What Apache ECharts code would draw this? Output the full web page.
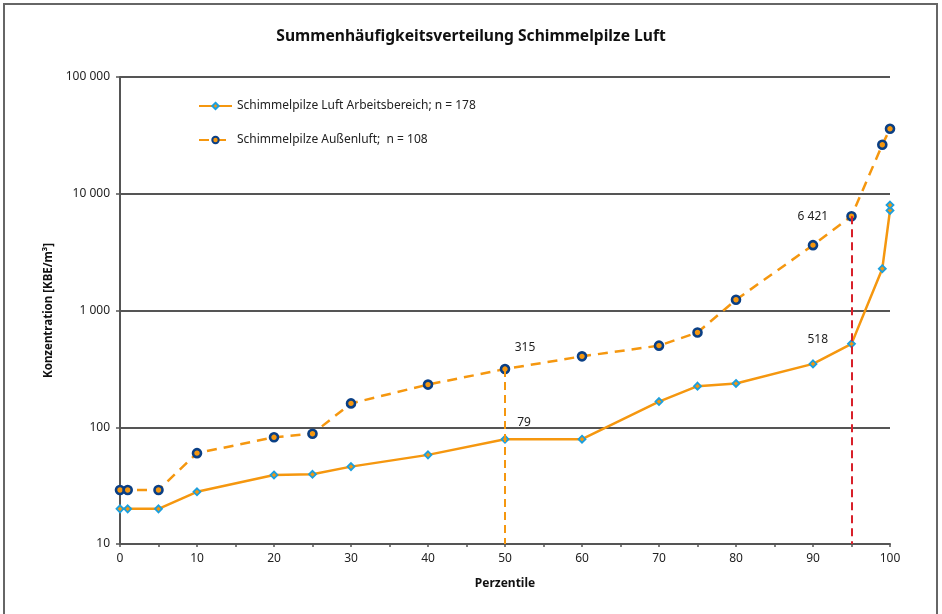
<!DOCTYPE html>
<html>
<head>
<meta charset="utf-8">
<script src="https://cdn.jsdelivr.net/npm/echarts@6/dist/echarts.min.js"></script>
<style>
html,body{margin:0;padding:0;background:#fff;}
#chart{width:942px;height:614px;}
</style>
</head>
<body>
<div id="chart"></div>
<script>
// ---- data ----
const title = 'Summenhäufigkeitsverteilung Schimmelpilze Luft';
const seriesNames = ['Schimmelpilze Luft Arbeitsbereich; n = 178', 'Schimmelpilze Außenluft;  n = 108'];
const xTicks = [0, 10, 20, 30, 40, 50, 60, 70, 80, 90, 100];
const yTicks = [10, 100, 1000, 10000, 100000];

const arbeitX = [0, 1, 5, 10, 20, 25, 30, 40, 50, 60, 70, 75, 80, 90, 95, 99, 100, 100];
const arbeitY = [20, 20, 20, 28, 39, 39.5, 46, 58, 79, 79, 166, 225, 237, 349, 518, 2280, 7200, 8000];

const aussenX = [0, 1, 5, 10, 20, 25, 30, 40, 50, 60, 70, 75, 80, 90, 95, 99, 100];
const aussenY = [29, 29, 29, 60, 82, 88, 160, 232, 315, 405, 500, 648, 1236, 3630, 6421, 26300, 36000];

// annotated percentiles (median and P95)
const medianX = 50;
const p95X = 95;

// ---- helpers ----
function fmt(v) {
  return String(Math.round(v)).replace(/\B(?=(\d{3})+(?!\d))/g, ' ');
}
const ORANGE = '#F5970F';
const FONT = 'Noto Sans';

function buildData(xs, ys, labels) {
  return xs.map((x, i) => {
    const item = { value: [x, ys[i]] };
    const lab = labels[i];
    if (lab) item.label = Object.assign({ show: true, formatter: fmt(ys[i]), color: '#222', fontSize: 12, fontFamily: FONT }, lab);
    return item;
  });
}

const arbeitLabels = {};
arbeitLabels[arbeitX.indexOf(medianX)] = { position: 'top', offset: [19, -1] };
arbeitLabels[arbeitX.indexOf(p95X)] = { position: 'left', offset: [-14, -4] };
const aussenLabels = {};
aussenLabels[aussenX.indexOf(medianX)] = { position: 'top', offset: [20, -5] };
aussenLabels[aussenX.indexOf(p95X)] = { position: 'left', offset: [-13, 0] };

const medY = aussenY[aussenX.indexOf(medianX)];
const p95Y = aussenY[aussenX.indexOf(p95X)];

const chart = echarts.init(document.getElementById('chart'), null, { renderer: 'canvas' });
chart.setOption({
  animation: false,
  backgroundColor: '#fff',
  textStyle: { fontFamily: FONT },
  title: {
    text: title, left: 'center', top: 24,
    textStyle: { fontFamily: FONT, fontSize: 15.6, fontWeight: 'bold', color: '#111' }
  },
  graphic: [{
    type: 'rect', shape: { x: 4, y: 4, width: 933, height: 620 },
    style: { fill: 'none', stroke: '#666', lineWidth: 2 }, silent: true, z: 100
  }],
  legend: {
    orient: 'vertical', left: 193, top: 95, itemGap: 22,
    itemWidth: 33, itemHeight: 8,
    textStyle: { fontFamily: FONT, fontSize: 12, color: '#222' },
    data: seriesNames
  },
  grid: { left: 120, right: 52, top: 77, bottom: 70, containLabel: false },
  xAxis: {
    type: 'value', min: xTicks[0], max: xTicks[xTicks.length - 1], interval: 10,
    name: 'Perzentile', nameLocation: 'middle', nameGap: 34,
    nameTextStyle: { fontFamily: FONT, fontSize: 12, fontWeight: 'bold', color: '#111' },
    axisLine: { lineStyle: { color: '#555', width: 2 } },
    axisTick: { show: true, length: 3, lineStyle: { color: '#555', width: 1.5 } },
    minorTick: { show: true, splitNumber: 2, length: 3, lineStyle: { color: '#555', width: 1.5 } },
    axisLabel: { fontFamily: FONT, fontSize: 12, color: '#222', margin: 9 },
    splitLine: { show: false }
  },
  yAxis: {
    type: 'log', logBase: 10, min: yTicks[0], max: yTicks[yTicks.length - 1],
    name: 'Konzentration [KBE/m³]', nameLocation: 'middle', nameGap: 62, nameRotate: 90,
    nameTextStyle: { fontFamily: FONT, fontSize: 11.5, fontWeight: 'bold', color: '#111' },
    axisLine: { show: true, lineStyle: { color: '#555', width: 2 } },
    axisTick: { show: true, length: 4, lineStyle: { color: '#555', width: 1.5 } },
    axisLabel: { fontFamily: FONT, fontSize: 12, color: '#222', margin: 10, formatter: v => fmt(v) },
    splitLine: { show: true, lineStyle: { color: '#555', width: 2 } }
  },
  series: [
    {
      name: seriesNames[0], type: 'line',
      data: buildData(arbeitX, arbeitY, arbeitLabels),
      symbol: 'diamond', symbolSize: 7, showAllSymbol: true,
      lineStyle: { color: ORANGE, width: 2.5 },
      itemStyle: { color: ORANGE, borderColor: '#1C9FDD', borderWidth: 1.8 },
      z: 3
    },
    {
      name: seriesNames[1], type: 'line',
      data: buildData(aussenX, aussenY, aussenLabels),
      symbol: 'circle', symbolSize: 8, showAllSymbol: true,
      lineStyle: { color: ORANGE, width: 2.5, type: [10, 7] },
      itemStyle: { color: ORANGE, borderColor: '#0A3F85', borderWidth: 2.6 },
      z: 3,
      markLine: {
        silent: true, symbol: 'none', label: { show: false },
        data: [
          [{ coord: [medianX, medY], lineStyle: { color: ORANGE, type: [8, 5], width: 2 } }, { coord: [medianX, yTicks[0]] }],
          [{ coord: [p95X, p95Y], lineStyle: { color: '#D8202A', type: [8, 5], width: 2 } }, { coord: [p95X, yTicks[0]] }]
        ]
      }
    }
  ]
});
</script>
</body>
</html>
